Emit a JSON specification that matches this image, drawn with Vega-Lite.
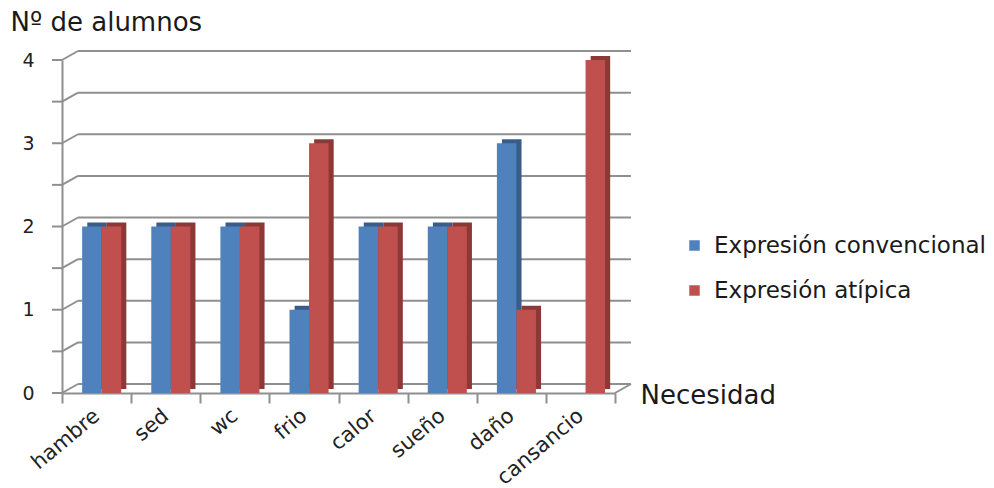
{
  "$schema": "https://vega.github.io/schema/vega-lite/v6.json",
  "width": 553,
  "height": 333,
  "autosize": "none",
  "padding": {"left": 62, "top": 60, "right": 379, "bottom": 95},
  "background": "white",
  "config": {"font": "DejaVu Sans", "view": {"stroke": null}},
  "datasets": {
    "counts": [
      {"necesidad": "hambre", "serie": "Expresión convencional", "alumnos": 2},
      {"necesidad": "hambre", "serie": "Expresión atípica", "alumnos": 2},
      {"necesidad": "sed", "serie": "Expresión convencional", "alumnos": 2},
      {"necesidad": "sed", "serie": "Expresión atípica", "alumnos": 2},
      {"necesidad": "wc", "serie": "Expresión convencional", "alumnos": 2},
      {"necesidad": "wc", "serie": "Expresión atípica", "alumnos": 2},
      {"necesidad": "frio", "serie": "Expresión convencional", "alumnos": 1},
      {"necesidad": "frio", "serie": "Expresión atípica", "alumnos": 3},
      {"necesidad": "calor", "serie": "Expresión convencional", "alumnos": 2},
      {"necesidad": "calor", "serie": "Expresión atípica", "alumnos": 2},
      {"necesidad": "sueño", "serie": "Expresión convencional", "alumnos": 2},
      {"necesidad": "sueño", "serie": "Expresión atípica", "alumnos": 2},
      {"necesidad": "daño", "serie": "Expresión convencional", "alumnos": 3},
      {"necesidad": "daño", "serie": "Expresión atípica", "alumnos": 1},
      {"necesidad": "cansancio", "serie": "Expresión convencional", "alumnos": 0},
      {"necesidad": "cansancio", "serie": "Expresión atípica", "alumnos": 4}
    ],
    "grid": [
      {"nivel": 0}, {"nivel": 0.5}, {"nivel": 1}, {"nivel": 1.5}, {"nivel": 2},
      {"nivel": 2.5}, {"nivel": 3}, {"nivel": 3.5}, {"nivel": 4}
    ]
  },
  "resolve": {"scale": {"xOffset": "independent"}},
  "layer": [
    {
      "data": {"name": "grid"},
      "mark": {"type": "rule", "color": "#8f8f8f", "strokeWidth": 2, "xOffset": 16, "x2Offset": 16, "yOffset": -9, "y2Offset": -9},
      "encoding": {
        "x": {"datum": "hambre", "type": "nominal", "bandPosition": 0},
        "x2": {"datum": "cansancio", "bandPosition": 1},
        "y": {"field": "nivel", "type": "quantitative"}
      }
    },
    {
      "data": {"name": "grid"},
      "mark": {"type": "rule", "color": "#8f8f8f", "strokeWidth": 2, "x2Offset": 16, "y2Offset": -9},
      "encoding": {
        "x": {"datum": "hambre", "type": "nominal", "bandPosition": 0},
        "x2": {"datum": "hambre", "bandPosition": 0},
        "y": {"field": "nivel", "type": "quantitative"},
        "y2": {"field": "nivel"}
      }
    },
    {
      "data": {"name": "grid"},
      "mark": {"type": "rule", "color": "#8f8f8f", "strokeWidth": 2, "xOffset": -10},
      "encoding": {
        "x": {"datum": "hambre", "type": "nominal", "bandPosition": 0},
        "x2": {"datum": "hambre", "bandPosition": 0},
        "y": {"field": "nivel", "type": "quantitative"},
        "y2": {"field": "nivel"}
      }
    },
    {
      "data": {"name": "grid"},
      "transform": [{"filter": "datum.nivel == 0"}],
      "mark": {"type": "rule", "color": "#8f8f8f", "strokeWidth": 2, "x2Offset": 16, "y2Offset": -9},
      "encoding": {
        "x": {"datum": "cansancio", "type": "nominal", "bandPosition": 1},
        "x2": {"datum": "cansancio", "bandPosition": 1},
        "y": {"field": "nivel", "type": "quantitative"},
        "y2": {"field": "nivel"}
      }
    },
    {
      "data": {"name": "counts"},
      "mark": {"type": "bar", "yOffset": -4, "y2Offset": 0},
      "encoding": {
        "x": {"field": "necesidad", "type": "nominal"},
        "xOffset": {"field": "serie", "sort": null, "scale": {"paddingOuter": 0.77, "paddingInner": 0, "align": 0.84}},
        "y": {"field": "alumnos", "type": "quantitative"},
        "fill": {
          "condition": {"test": "datum.serie === 'Expresión convencional'", "value": "#385D8A"},
          "value": "#8C3836"
        }
      }
    },
    {
      "data": {"name": "counts"},
      "mark": {"type": "bar"},
      "encoding": {
        "x": {
          "field": "necesidad", "type": "nominal",
          "scale": {"domain": ["hambre", "sed", "wc", "frio", "calor", "sueño", "daño", "cansancio"], "paddingInner": 0, "paddingOuter": 0},
          "axis": {
            "title": "Necesidad", "titleAngle": 0, "titleAlign": "left", "titleBaseline": "middle",
            "titleX": 578, "titleY": 2, "titleFontSize": 26, "titleFontWeight": "normal", "titleColor": "#1a1a1a",
            "labelAngle": -40, "labelAlign": "right", "labelBaseline": "middle", "labelFontSize": 21,
            "labelColor": "#222222", "labelPadding": 10,
            "tickBand": "extent", "tickSize": 10, "tickColor": "#8f8f8f", "tickWidth": 2,
            "domainColor": "#8f8f8f", "domainWidth": 2, "grid": false
          }
        },
        "xOffset": {"field": "serie", "sort": null, "scale": {"paddingOuter": 0.77, "paddingInner": 0, "align": 0.67}},
        "y": {
          "field": "alumnos", "type": "quantitative",
          "scale": {"domain": [0, 4], "nice": false},
          "axis": {
            "values": [0, 1, 2, 3, 4], "format": "d",
            "title": "Nº de alumnos", "titleAngle": 0, "titleAlign": "left", "titleBaseline": "middle",
            "titleX": -52, "titleY": -38, "titleFontSize": 26, "titleFontWeight": "normal", "titleColor": "#1a1a1a",
            "labelFontSize": 19, "labelColor": "#222222", "labelPadding": 28,
            "ticks": false, "domainColor": "#8f8f8f", "domainWidth": 2, "grid": false
          }
        },
        "color": {
          "field": "serie", "sort": null,
          "scale": {"domain": ["Expresión convencional", "Expresión atípica"], "range": ["#4F81BD", "#C0504D"]},
          "legend": {
            "title": null, "orient": "none", "legendX": 621, "legendY": 174,
            "symbolType": "square", "symbolSize": 110, "symbolStrokeWidth": 0,
            "labelFontSize": 23, "labelColor": "#1a1a1a", "labelOffset": 8, "rowPadding": 21, "labelLimit": 400
          }
        }
      }
    }
  ]
}
